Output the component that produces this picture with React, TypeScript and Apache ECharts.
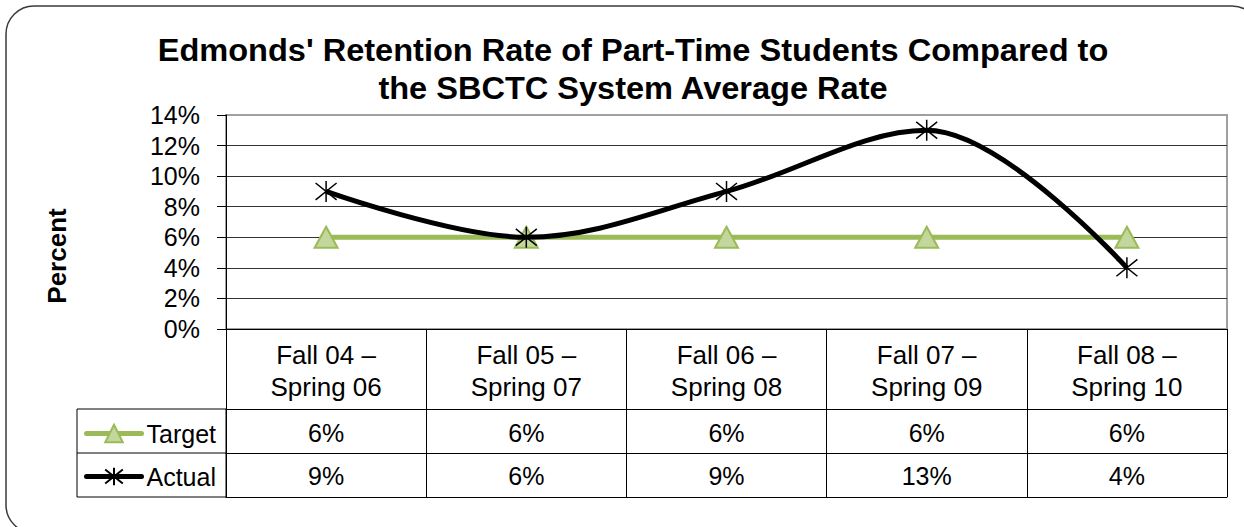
import React, { useEffect, useRef } from "react";
import * as echarts from "echarts";

const titleLines = [
  "Edmonds' Retention Rate of Part-Time Students Compared to",
  "the SBCTC System Average Rate",
];
const categories = [
  "Fall 04 –\nSpring 06",
  "Fall 05 –\nSpring 07",
  "Fall 06 –\nSpring 08",
  "Fall 07 –\nSpring 09",
  "Fall 08 –\nSpring 10",
];
const targetValues = [6, 6, 6, 6, 6];
const actualValues = [9, 6, 9, 13, 4];
const yTicks = { min: 0, max: 14, interval: 2 };
const yAxisTitle = "Percent";

const FONT = '"Liberation Sans", Arial, sans-serif';
const STAR = "path://M2,2L18,18M18,2L2,18M10,0L10,20";

export default function App() {
  const ref = useRef<HTMLDivElement>(null);
  useEffect(() => {
    document.body.style.margin = "0";
    const chart = echarts.init(ref.current!, null, { renderer: "svg" });
    const pct = (v: number) => `${v}%`;
    const baseX = {
      type: "category" as const,
      gridIndex: 0,
      position: "bottom" as const,
      boundaryGap: true,
      axisLine: { show: true, lineStyle: { color: "#000", width: 1 } },
    };
    const legendBase = {
      left: 84,
      padding: 0,
      itemWidth: 55,
      itemHeight: 22,
      lineStyle: { width: 5, cap: "round" as const },
      textStyle: { fontSize: 25, color: "#000", fontFamily: FONT },
    };
    chart.setOption({
      animation: false,
      backgroundColor: "#fff",
      textStyle: { fontFamily: FONT },
      grid: {
        left: 226,
        right: 17,
        top: 115,
        bottom: 198,
        show: true,
        borderColor: "#A0A0A0",
        borderWidth: 2,
        backgroundColor: "transparent",
      },
      legend: [
        { ...legendBase, data: ["Target"], top: 421 },
        { ...legendBase, data: ["Actual"], top: 464 },
      ],
      xAxis: [
        {
          ...baseX,
          data: categories,
          axisTick: { show: true, interval: 0, length: 80, lineStyle: { color: "#000" } },
          axisLabel: {
            interval: 0,
            fontSize: 26,
            lineHeight: 32,
            margin: 10,
            color: "#000",
            fontFamily: FONT,
          },
        },
        {
          ...baseX,
          offset: 80,
          data: targetValues.map(pct),
          axisTick: { show: true, interval: 0, length: 44, lineStyle: { color: "#000" } },
          axisLabel: { interval: 0, fontSize: 25, lineHeight: 30, margin: 9, color: "#000", fontFamily: FONT },
        },
        {
          ...baseX,
          offset: 124,
          data: actualValues.map(pct),
          axisTick: { show: true, interval: 0, length: 44, lineStyle: { color: "#000" } },
          axisLabel: { interval: 0, fontSize: 25, lineHeight: 30, margin: 8, color: "#000", fontFamily: FONT },
        },
        {
          ...baseX,
          offset: 168,
          data: categories,
          axisTick: { show: false },
          axisLabel: { show: false },
        },
      ],
      yAxis: {
        type: "value",
        min: yTicks.min,
        max: yTicks.max,
        interval: yTicks.interval,
        axisLine: { show: true, lineStyle: { color: "#000", width: 1 } },
        axisTick: { show: true, length: 9, lineStyle: { color: "#000" } },
        axisLabel: {
          formatter: (v: number) => pct(v),
          fontSize: 25,
          margin: 26,
          color: "#000",
          fontFamily: FONT,
        },
        splitLine: {
          show: true,
          lineStyle: {
            color: ["#333", "#333", "#333", "#333", "#333", "#333", "#333", "#A0A0A0"],
            width: 1,
          },
        },
      },
      series: [
        {
          name: "Target",
          type: "line",
          xAxisIndex: 0,
          data: targetValues,
          symbol: "triangle",
          symbolSize: [23, 21],
          lineStyle: { color: "#9BBB59", width: 5 },
          itemStyle: { color: "#C3D69B", borderColor: "#9BBB59", borderWidth: 2 },
          z: 2,
        },
        {
          name: "Actual",
          type: "line",
          xAxisIndex: 0,
          data: actualValues,
          smooth: 0.35,
          symbol: STAR,
          symbolSize: 21,
          lineStyle: { color: "#000", width: 5 },
          itemStyle: { color: "#000", borderColor: "#000", borderWidth: 1.5 },
          z: 3,
        },
      ],
      graphic: [
        {
          type: "rect",
          shape: { x: 6, y: 6, width: 1254, height: 527, r: 28 },
          style: { fill: "none", stroke: "#3a3a3a", lineWidth: 1.5 },
          silent: true,
        },
        {
          type: "text",
          x: 633,
          y: 31,
          scaleX: 1.05,
          style: {
            text: titleLines.join("\n"),
            fontSize: 31,
            fontWeight: "bold",
            lineHeight: 38,
            fontFamily: FONT,
            fill: "#000",
            align: "center",
            verticalAlign: "top",
          },
        },
        {
          type: "text",
          x: 57,
          y: 256,
          rotation: Math.PI / 2,
          style: {
            text: yAxisTitle,
            fontSize: 26,
            fontWeight: "bold",
            fontFamily: FONT,
            fill: "#000",
            align: "center",
            verticalAlign: "middle",
          },
        },
        {
          type: "rect",
          shape: { x: 77, y: 409, width: 149, height: 88 },
          style: { fill: "none", stroke: "#000", lineWidth: 1 },
          silent: true,
        },
        {
          type: "line",
          shape: { x1: 77, y1: 453, x2: 226, y2: 453 },
          style: { stroke: "#000", lineWidth: 1 },
          silent: true,
        },
      ],
    });
    return () => chart.dispose();
  }, []);
  return (
    <div
      ref={ref}
      style={{ position: "absolute", left: 0, top: 0, width: 1244, height: 527 }}
    />
  );
}
